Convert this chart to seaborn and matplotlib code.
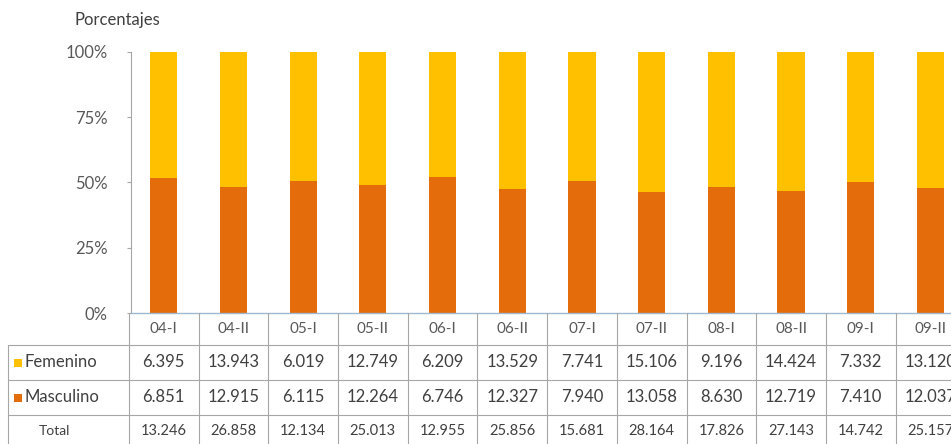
"""
Distribución por sexo (porcentajes) con tabla de valores absolutos debajo
"""

import matplotlib

matplotlib.use("Agg")
import matplotlib.pyplot as plt
import matplotlib.transforms as mtransforms
from matplotlib.lines import Line2D
from matplotlib.patches import Rectangle
import pandas as pd
import seaborn as sns

# datos
periodos = ["04-I", "04-II", "05-I", "05-II", "06-I", "06-II",
            "07-I", "07-II", "08-I", "08-II", "09-I", "09-II"]
femenino = [6395, 13943, 6019, 12749, 6209, 13529, 7741, 15106, 9196, 14424, 7332, 13120]
masculino = [6851, 12915, 6115, 12264, 6746, 12327, 7940, 13058, 8630, 12719, 7410, 12037]
total = [13246, 26858, 12134, 25013, 12955, 25856, 15681, 28164, 17826, 27143, 14742, 25157]
yticks = [0, 25, 50, 75, 100]

COL_FEM = "#FFC000"
COL_MAS = "#E46C0A"
GRID = "#A6A6A6"
TXT = "#404040"

W, H = 951, 444


def fx(px):
    return px / W


def fy(px):
    return 1 - px / H


def fmt(v):
    return f"{v:,}".replace(",", ".")


df = pd.DataFrame({"periodo": periodos, "fem": femenino, "mas": masculino})
df["pct_mas"] = 100 * df["mas"] / (df["fem"] + df["mas"])
df["pct_tot"] = 100.0

sns.set_style("white")
plt.rcParams["font.family"] = ["Lato", "DejaVu Sans"]

fig = plt.figure(figsize=(W / 100, H / 100), dpi=100)
ax = fig.add_axes([fx(131), fy(313), fx(12 * 69.7), 261 / H])

# barras apiladas al 100%: femenino detrás, masculino delante
sns.barplot(data=df, x="periodo", y="pct_tot", color=COL_FEM, width=0.39,
            saturation=1, linewidth=0, ax=ax)
sns.barplot(data=df, x="periodo", y="pct_mas", color=COL_MAS, width=0.39,
            saturation=1, linewidth=0, ax=ax)

ax.set_xlim(-0.47, len(periodos) - 0.47)
ax.set_ylim(0, 100)
ax.set_yticks(yticks)
ax.set_yticklabels([f"{t}%" for t in yticks])
ax.set_xlabel("")
ax.set_ylabel("")
ax.tick_params(axis="x", bottom=False, labelbottom=False)
ax.tick_params(axis="y", left=True, direction="out", length=3, width=0.8,
               color=GRID, pad=14, labelsize=12, labelcolor="#595959")
for s in ["top", "right"]:
    ax.spines[s].set_visible(False)
ax.spines["left"].set_color(GRID)
ax.spines["left"].set_linewidth(0.8)
ax.spines["bottom"].set_color("#9DB8D0")
ax.spines["bottom"].set_linewidth(1)

fig.text(fx(75), fy(20), "Porcentajes", fontsize=12, color=TXT,
         ha="left", va="center")

# tabla
trans = mtransforms.blended_transform_factory(ax.transData, fig.transFigure)
row_y = {"head": 329, "fem": 362, "mas": 397, "tot": 431}

for i, p in enumerate(periodos):
    ax.text(i, fy(row_y["head"]), p, transform=trans, ha="center", va="center",
            fontsize=11, color="#595959", clip_on=False)
    ax.text(i, fy(row_y["fem"]), fmt(femenino[i]), transform=trans, ha="center",
            va="center", fontsize=12, color=TXT, clip_on=False)
    ax.text(i, fy(row_y["mas"]), fmt(masculino[i]), transform=trans, ha="center",
            va="center", fontsize=12, color=TXT, clip_on=False)
    ax.text(i, fy(row_y["tot"]), fmt(total[i]), transform=trans, ha="center",
            va="center", fontsize=10.5, color=TXT, clip_on=False)

for k in range(len(periodos) + 1):
    fig.add_artist(Line2D([k - 0.5, k - 0.5], [fy(313), 0], transform=trans,
                          color=GRID, lw=0.8))
fig.add_artist(Line2D([fx(8), fx(8)], [fy(345), 0], color=GRID, lw=0.8))
for yy in [345, 380, 415]:
    fig.add_artist(Line2D([fx(8), 1], [fy(yy), fy(yy)], color=GRID, lw=0.8))

# etiquetas de fila con marcador de color
fig.add_artist(Rectangle((fx(14), fy(367)), fx(8), 8 / H, color=COL_FEM, lw=0))
fig.add_artist(Rectangle((fx(14), fy(402)), fx(8), 8 / H, color=COL_MAS, lw=0))
fig.text(fx(24), fy(row_y["fem"]), "Femenino", fontsize=12, color=TXT, va="center")
fig.text(fx(24), fy(row_y["mas"]), "Masculino", fontsize=12, color=TXT, va="center")
fig.text(fx(39), fy(row_y["tot"]), "Total", fontsize=10, color=TXT, va="center")

fig.savefig("out.png", dpi=100)
